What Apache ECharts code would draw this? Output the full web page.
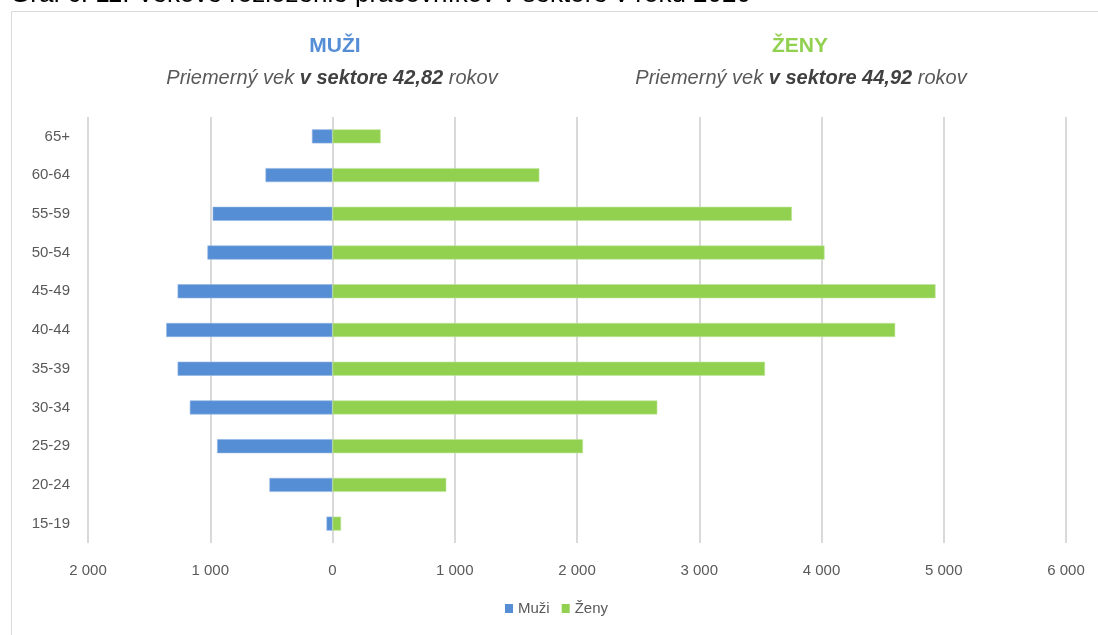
<!DOCTYPE html>
<html>
<head>
<meta charset="utf-8">
<script src="https://cdn.jsdelivr.net/npm/echarts@6/dist/echarts.min.js"></script>
<style>
  html, body { margin: 0; padding: 0; background: #fff; }
  #chart { width: 1098px; height: 635px; }
</style>
</head>
<body>
<div id="chart"></div>
<script>
const ageGroups = ["15-19", "20-24", "25-29", "30-34", "35-39", "40-44", "45-49", "50-54", "55-59", "60-64", "65+"];
const muzi = [49, 516, 944, 1167, 1267, 1360, 1267, 1023, 980, 548, 168];
const zeny = [70, 931, 2049, 2657, 3538, 4603, 4933, 4025, 3758, 1692, 394];
const avgAge = { muzi: "42,82", zeny: "44,92" };

const blue = "#558ED5";
const green = "#92D050";
const font = "Liberation Sans";

const fmt = (v) => {
  const n = Math.abs(v);
  return n >= 1000 ? Math.floor(n / 1000) + " " + String(n % 1000).padStart(3, "0") : String(n);
};

const subtitle = (val) => ({
  text: "{i|Priemerný vek }{b|v sektore " + val + "}{i| rokov}",
  textStyle: {
    fontWeight: "normal",
    rich: {
      i: { fontFamily: font, fontStyle: "italic", fontWeight: "normal", fontSize: 20, color: "#595959" },
      b: { fontFamily: font, fontStyle: "italic", fontWeight: "bold", fontSize: 20, color: "#404040" },
    },
  },
});

const myChart = echarts.init(document.getElementById("chart"));
const option = {
  animation: false,
  graphic: [
    {
      type: "rect",
      shape: { x: 11.5, y: 11.5, width: 1200, height: 700 },
      style: { fill: "none", stroke: "#d9d9d9", lineWidth: 1 },
      silent: true,
    },
    {
      type: "text",
      left: 10,
      top: -18,
      style: {
        text: "Graf č. 11: Vekové rozloženie pracovníkov v sektore v roku 2020",
        fontFamily: font,
        fontSize: 26,
        fill: "#000",
      },
      silent: true,
    },
  ],
  title: [
    {
      text: "MUŽI",
      left: 330,
      top: 31,
      textAlign: "center",
      textStyle: { fontFamily: font, fontWeight: "bold", fontSize: 21, color: blue },
    },
    {
      text: "ŽENY",
      left: 795,
      top: 31,
      textAlign: "center",
      textStyle: { fontFamily: font, fontWeight: "bold", fontSize: 21, color: green },
    },
    Object.assign({ left: 327, top: 63, textAlign: "center" }, subtitle(avgAge.muzi)),
    Object.assign({ left: 796, top: 63, textAlign: "center" }, subtitle(avgAge.zeny)),
  ],
  legend: {
    bottom: 14,
    left: 500,
    itemWidth: 8,
    itemHeight: 9,
    itemGap: 12,
    icon: "rect",
    itemStyle: { borderWidth: 0 },
    textStyle: { fontFamily: font, fontSize: 15, color: "#595959" },
    data: ["Muži", "Ženy"],
  },
  grid: { left: 88, right: 32, top: 117, height: 426 },
  xAxis: {
    type: "value",
    min: -2000,
    max: 6000,
    interval: 1000,
    axisLine: { show: false },
    axisTick: { show: false },
    splitLine: { lineStyle: { color: "#d9d9d9", width: 2 } },
    axisLabel: {
      formatter: fmt,
      fontFamily: font,
      fontSize: 15,
      color: "#595959",
      margin: 20,
    },
  },
  yAxis: {
    type: "category",
    data: ageGroups,
    axisLine: { show: false },
    axisTick: { show: false },
    axisLabel: { fontFamily: font, fontSize: 15, color: "#595959", margin: 18 },
  },
  series: [
    {
      name: "Muži",
      type: "bar",
      stack: "total",
      barWidth: 14,
      data: muzi.map((v) => -v),
      itemStyle: { color: blue, borderColor: "#8fb4e3", borderWidth: 0.6 },
    },
    {
      name: "Ženy",
      type: "bar",
      stack: "total",
      barWidth: 14,
      data: zeny,
      itemStyle: { color: green, borderColor: "#bfe59a", borderWidth: 0.6 },
    },
  ],
};
myChart.setOption(option);
</script>
</body>
</html>
